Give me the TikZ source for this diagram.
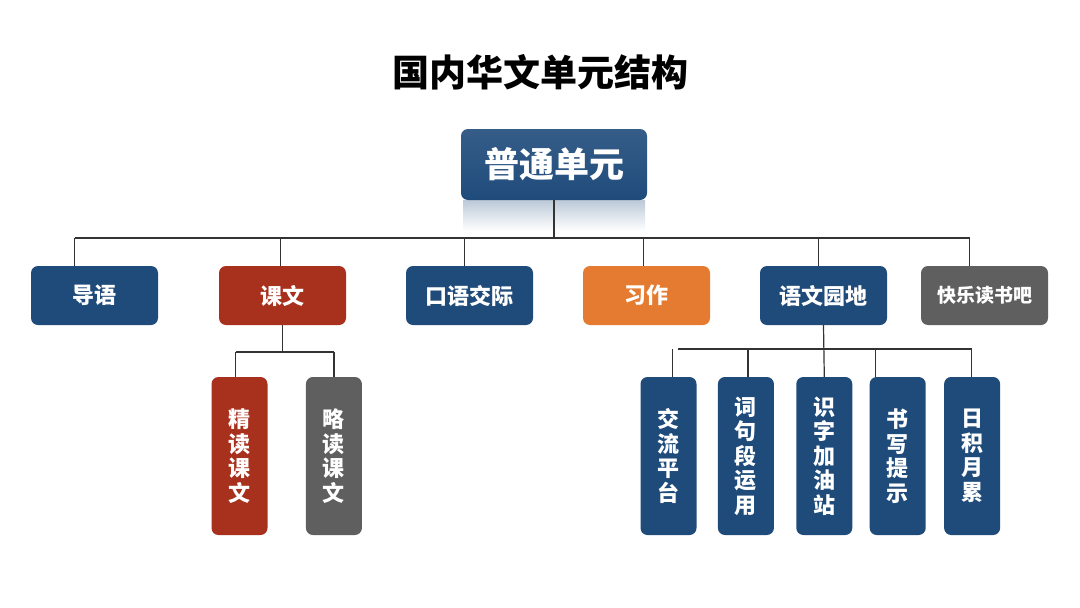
\documentclass[tikz,border=0pt]{standalone}
\usepackage{fontspec}
\newfontfamily\cjk{Noto Sans CJK SC}
\usetikzlibrary{positioning}
\definecolor{unitblue}{HTML}{1F4B7B}
\definecolor{unitred}{HTML}{A8311E}
\definecolor{unitorange}{HTML}{E57B30}
\definecolor{unitgrey}{HTML}{5F5F5F}
\definecolor{linegrey}{HTML}{333333}

\begin{document}
\begin{tikzpicture}[x=1pt,y=1pt,
  box/.style={rounded corners=7pt,minimum width=127pt,minimum height=59pt,inner sep=0pt,text=white,font=\cjk\bfseries\fontsize{22}{26}\selectfont},
  vbox/.style={rounded corners=7pt,minimum width=56pt,minimum height=158pt,inner sep=0pt,text=white,align=center,font=\cjk\bfseries\fontsize{22}{24.5}\selectfont},
  link/.style={draw=linegrey,line width=1.2pt}
]
\useasboundingbox (0,0) rectangle (1080,-608);

\node[font=\cjk\bfseries\fontsize{37}{40}\selectfont] (title) at (540,-72) {国内华文单元结构};

% reflection under the root box
\fill[top color=unitblue!30,bottom color=white] (463,-200) rectangle (645,-231);
\node[box,minimum width=186pt,minimum height=71pt,top color=unitblue!90!white,bottom color=unitblue,font=\cjk\bfseries\fontsize{35}{40}\selectfont] (root) at (554,-164.5) {普通单元};

% second row
\node[box,fill=unitblue] (daoyu) at (94.5,-295.5) {导语};
\node[box,fill=unitred] (kewen) at (282.5,-295.5) {课文};
\node[box,fill=unitblue] (kouyu) at (469.5,-295.5) {口语交际};
\node[box,fill=unitorange] (xizuo) at (646.5,-295.5) {习作};
\node[box,fill=unitblue] (yuandi) at (823.5,-295.5) {语文园地};
\node[box,fill=unitgrey,font=\cjk\bfseries\fontsize{19}{22}\selectfont] (kuaile) at (984.5,-295.5) {快乐读书吧};

% lessons
\node[vbox,fill=unitred] (jingdu) at (239.5,-456) {精\\读\\课\\文};
\node[vbox,fill=unitgrey,right=38pt of jingdu] (luedu) {略\\读\\课\\文};

% garden parts
\node[vbox,fill=unitblue] (jiaoliu) at (668.5,-456) {交\\流\\平\\台};
\node[vbox,fill=unitblue,right=21pt of jiaoliu] (ciju) {词\\句\\段\\运\\用};
\node[vbox,fill=unitblue,right=22pt of ciju] (shizi) {识\\字\\加\\油\\站};
\node[vbox,fill=unitblue,right=17pt of shizi] (shuxie) {书\\写\\提\\示};
\node[vbox,fill=unitblue,right=18pt of shuxie] (rijie) {日\\积\\月\\累};

\coordinate (bus) at (0,-238);
\coordinate (lessonbus) at (0,-352);
\coordinate (gardenbus) at (0,-349);

\draw[link] (root.south) -- (root.south |- bus);
\draw[link] ([xshift=-20pt]daoyu.north |- bus) -- ([xshift=-15pt]kuaile.north |- bus);
\foreach \n/\s in {daoyu/-20,kewen/-2,kouyu/-5,xizuo/-3,yuandi/-5,kuaile/-15}
  \draw[link] ([xshift=\s pt]\n.north) -- ([xshift=\s pt]\n.north |- bus);

\draw[link] (kewen.south) -- (kewen.south |- lessonbus);
\draw[link] ([xshift=-4pt]jingdu.north |- lessonbus) -- (luedu.north |- lessonbus);
\draw[link] ([xshift=-4pt]jingdu.north) -- ([xshift=-4pt]jingdu.north |- lessonbus);
\draw[link] (luedu.north) -- (luedu.north |- lessonbus);

\draw[link] (yuandi.south) -- (shizi.north);
\draw[link] ([xshift=9pt]jiaoliu.north |- gardenbus) -- (rijie.north |- gardenbus);
\foreach \n/\s in {jiaoliu/4,ciju/2,shuxie/-22,rijie/-1}
  \draw[link] ([xshift=\s pt]\n.north) -- ([xshift=\s pt]\n.north |- gardenbus);
\end{tikzpicture}
\end{document}
